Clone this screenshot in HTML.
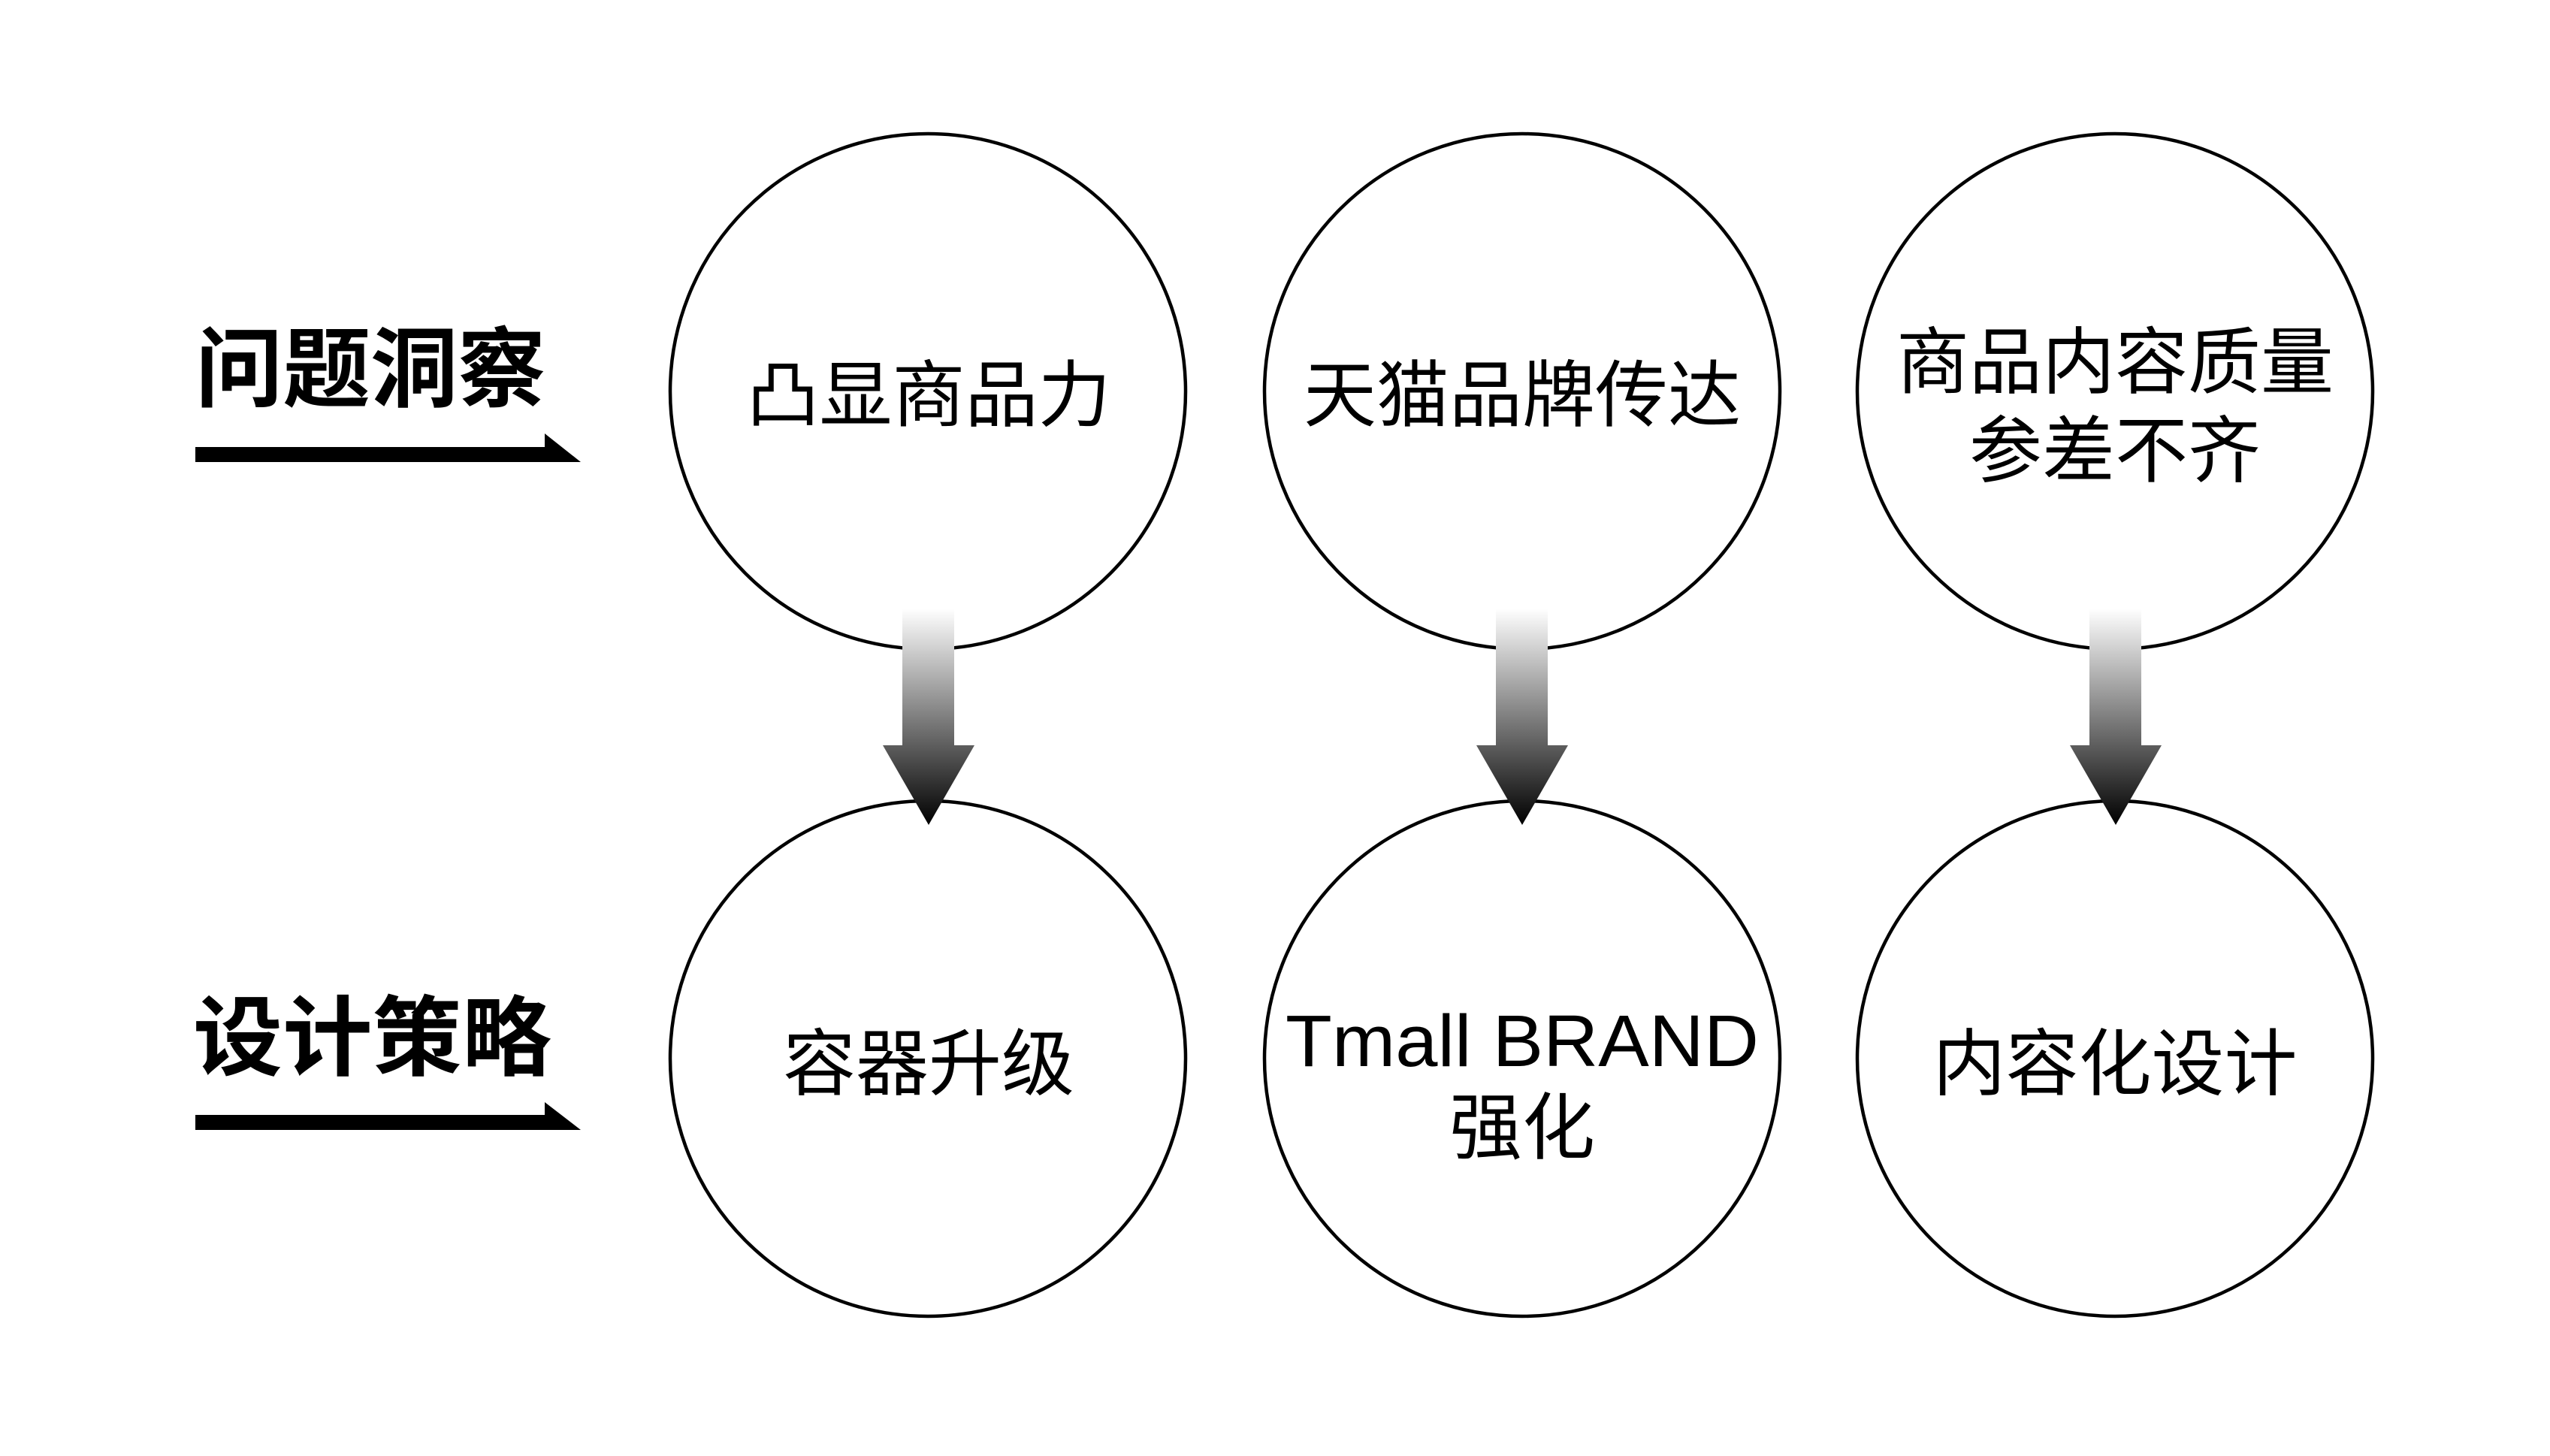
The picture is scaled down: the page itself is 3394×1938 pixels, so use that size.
<!DOCTYPE html>
<html><head><meta charset="utf-8"><style>
html,body{margin:0;padding:0;background:#fff}
svg{display:block}
text{font-family:"Liberation Sans","Noto Sans CJK SC",sans-serif;fill:#000}
</style></head><body>
<svg width="3394" height="1938" viewBox="0 0 3394 1938" xmlns="http://www.w3.org/2000/svg">
<defs>
<linearGradient id="g" x1="0" y1="0" x2="0" y2="1">
<stop offset="0" stop-color="#fff"/>
<stop offset="1" stop-color="#000"/>
</linearGradient>
</defs>
<rect width="3394" height="1938" fill="#fff"/>
<!-- left labels -->
<text x="260" y="532" font-size="116" font-weight="bold" textLength="466" lengthAdjust="spacingAndGlyphs">问题洞察</text>
<path d="M260 595 H725 V577 L773 615 H260 Z" fill="#000"/>
<text x="257" y="1422" font-size="116" font-weight="bold" textLength="477" lengthAdjust="spacingAndGlyphs">设计策略</text>
<path d="M260 1484 H725 V1467 L773 1504 H260 Z" fill="#000"/>
<!-- circles -->
<g fill="none" stroke="#000" stroke-width="4.5">
<circle cx="1235" cy="521" r="343"/>
<circle cx="2026" cy="521" r="343"/>
<circle cx="2815" cy="521" r="343"/>
<circle cx="1235" cy="1409" r="343"/>
<circle cx="2026" cy="1409" r="343"/>
<circle cx="2815" cy="1409" r="343"/>
</g>
<!-- arrows -->
<g>
<path d="M1201 810 H1270 V992 H1297 L1236 1098 L1175 992 H1201 Z" fill="url(#g)"/>
<path d="M1991 810 H2060 V992 H2087 L2026 1098 L1965 992 H1991 Z" fill="url(#g)"/>
<path d="M2781 810 H2850 V992 H2877 L2816 1098 L2755 992 H2781 Z" fill="url(#g)"/>
</g>
<g font-size="97" text-anchor="middle">
<text x="1236" y="560">凸显商品力</text>
<text x="2026" y="560">天猫品牌传达</text>
<text x="2815" y="516">商品内容质量</text>
<text x="2815" y="634">参差不齐</text>
<text x="1236" y="1450">容器升级</text>
<text x="2026" y="1419" textLength="630" lengthAdjust="spacingAndGlyphs">Tmall BRAND</text>
<text x="2026" y="1535">强化</text>
<text x="2815" y="1450">内容化设计</text>
</g>
</svg>
</body></html>
